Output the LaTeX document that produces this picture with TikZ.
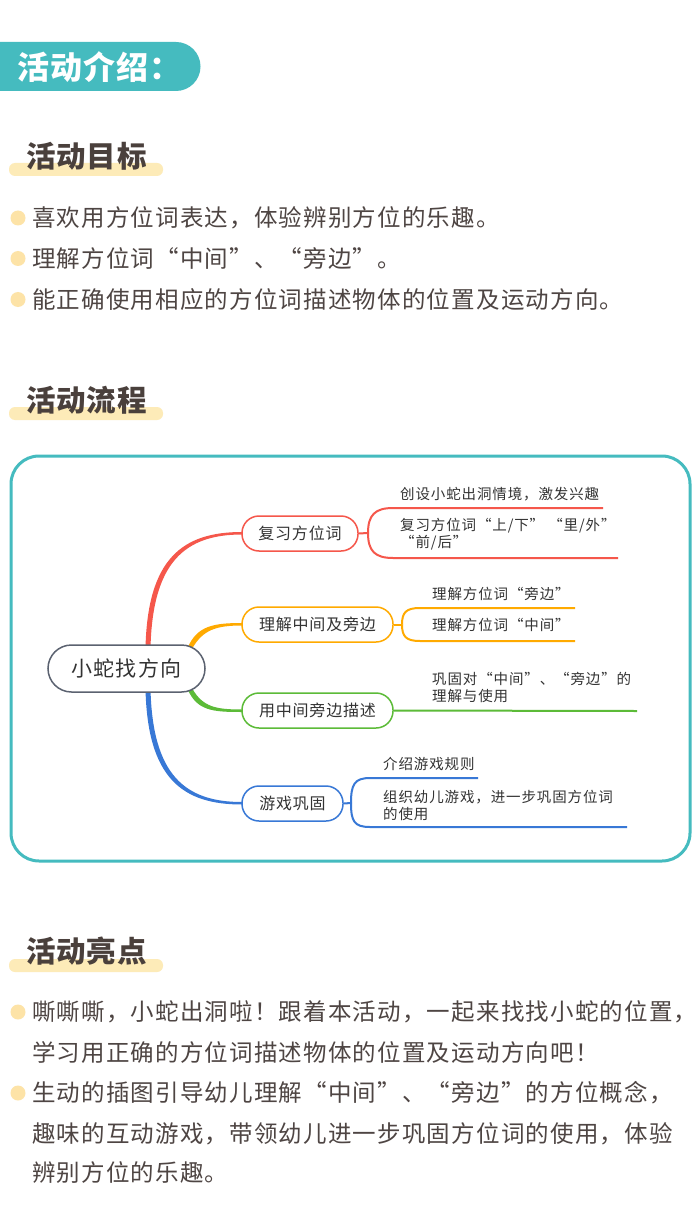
\documentclass[tikz,border=0pt]{standalone}
\usepackage{fontspec}
\setmainfont{Noto Sans CJK SC}
\newfontfamily\bodyf[LetterSpace=5]{Noto Sans CJK SC}
\newfontfamily\mmf[LetterSpace=6]{Noto Sans CJK SC}
\newfontfamily\nodef[LetterSpace=5]{Noto Sans CJK SC}
\newfontfamily\ttlf[LetterSpace=3]{Noto Sans CJK SC}
\usetikzlibrary{calc}
\definecolor{tealc}{HTML}{45BBBF}
\definecolor{titlec}{HTML}{4A403C}
\definecolor{textc}{HTML}{4E4543}
\definecolor{barc}{HTML}{FDEBB8}
\definecolor{dotc}{HTML}{FDE3A7}
\definecolor{mmtext}{HTML}{333333}
\definecolor{redc}{HTML}{F5574B}
\definecolor{orangec}{HTML}{FFAA00}
\definecolor{greenc}{HTML}{5CBB38}
\definecolor{bluec}{HTML}{3878D6}
\definecolor{grayc}{HTML}{5B6270}
\begin{document}
\begin{tikzpicture}[x=1pt,y=-1pt,
  txt/.style={anchor=west,inner sep=0pt,text=textc,font=\bodyf\fontsize{23.5}{23.5}\selectfont},
  ttl/.style={anchor=west,inner sep=0pt,text=titlec,font=\ttlf\bfseries\fontsize{29.5}{29.5}\selectfont},
  dot/.style={circle,fill=dotc,minimum size=15pt,inner sep=0pt},
  bar/.style={fill=barc,rounded corners=6pt},
  mm/.style={anchor=west,inner sep=0pt,text=mmtext,font=\mmf\fontsize{14.5}{17}\selectfont,align=left},
  br/.style={draw,line width=1.5pt,rounded corners=17pt,fill=white,text=mmtext,font=\nodef\fontsize{16}{16}\selectfont,minimum height=35pt,inner sep=0pt},
  sub/.style={line width=2pt},
]
\useasboundingbox (0,0) rectangle (700,1222);
\fill[white] (0,0) rectangle (700,1222);

% header banner
\fill[tealc] (0,42) -- (176,42) arc[start angle=-90,end angle=90,radius=24.5] -- (0,91) -- cycle;
\node[anchor=west,inner sep=0pt,text=white,font=\ttlf\bfseries\fontsize{32}{32}\selectfont] (hdr) at (17,67) {活动介绍：};

% section 1
\fill[bar] (9,163) rectangle (163,176);
\node[ttl] (s1) at (26,156) {活动目标};
\node[dot] (d1) at (18,218) {};
\node[dot] (d2) at (18,258.5) {};
\node[dot] (d3) at (18,299.5) {};
\node[txt] (g1) at (32,218) {喜欢用方位词表达，体验辨别方位的乐趣。};
\node[txt] (g2) at (32,258.5) {理解方位词“中间”、“旁边”。};
\node[txt] (g3) at (32,299.5) {能正确使用相应的方位词描述物体的位置及运动方向。};

% section 2
\fill[bar] (9,407) rectangle (163,420);
\node[ttl] (s2) at (26,400) {活动流程};
\draw[tealc,line width=3pt,rounded corners=28pt] (11,456) rectangle (690,861);

% main branches
\fill[redc] (145.5,648) .. controls (147.5,558) and (183,532) .. (242,532) -- (242,534.5) .. controls (185,534.5) and (152.5,562) .. (150.5,648) -- cycle;
\fill[orangec] (187.5,648) .. controls (197,626) and (213,623) .. (242,623) -- (242,625.5) .. controls (216,625.5) and (203,630) .. (192.5,648) -- cycle;
\fill[greenc] (187.5,689) .. controls (197,711) and (213,712) .. (242,712) -- (242,709.5) .. controls (216,709.5) and (203,707) .. (192.5,689) -- cycle;
\fill[bluec] (145.5,689) .. controls (147.5,779) and (183,804.5) .. (242,804.5) -- (242,802) .. controls (185,802) and (152.5,775) .. (150.5,689) -- cycle;

% central node
\node[draw=grayc,line width=1.5pt,fill=white,rounded corners=23.5pt,minimum width=157pt,minimum height=47pt,inner sep=0pt,text=mmtext,font=\nodef\fontsize{21}{21}\selectfont] (c) at (126.5,668.5) {小蛇找方向};

% branch nodes
\node[br,draw=redc,minimum width=116pt] (b1) at (300,533.5) {复习方位词};
\node[br,draw=orangec,minimum width=151pt] (b2) at (317.5,624.5) {理解中间及旁边};
\node[br,draw=greenc,minimum width=151pt] (b3) at (317.5,710.5) {用中间旁边描述};
\node[br,draw=bluec,minimum width=101pt] (b4) at (292.5,803.5) {游戏巩固};

% sub-branches red
\coordinate (j1) at (368,533);
\coordinate (r1) at (603,508);
\coordinate (r2) at (618,558);
\draw[sub,redc] (b1.east) -- (j1);
\draw[sub,redc] (j1) .. controls +(0,-18) and +(-18,0) .. (393,508) -- (r1);
\draw[sub,redc] (j1) .. controls +(0,18) and +(-18,0) .. (393,558) -- (r2);
\node[mm] (t1) at (400,494) {创设小蛇出洞情境，激发兴趣};
\node[mm] (t2) at (400,534.5) {复习方位词“上/下”\ “里/外”\\\hspace*{0pt}“前/后”};

% sub-branches orange
\coordinate (j2) at (402,624.5);
\coordinate (o1) at (575,608);
\coordinate (o2) at (575,641);
\draw[sub,orangec] (b2.east) -- (j2);
\draw[sub,orangec] (j2) .. controls +(0,-12) and +(-14,0) .. (420,608) -- (o1);
\draw[sub,orangec] (j2) .. controls +(0,12) and +(-14,0) .. (420,641) -- (o2);
\node[mm] (t3) at (432,594) {理解方位词“旁边”};
\node[mm] (t4) at (432,625) {理解方位词“中间”};

% green
\coordinate (g0) at (637,711);
\draw[sub,greenc] (b3.east) -- (g0);
\node[mm] (t5) at (432,687.5) {巩固对“中间”、“旁边”的\\理解与使用};

% blue
\coordinate (j4) at (351,803);
\coordinate (u1) at (478,778);
\coordinate (u2) at (627,827);
\draw[sub,bluec] (b4.east) -- (j4);
\draw[sub,bluec] (j4) .. controls +(0,-18) and +(-16,0) .. (370,778) -- (u1);
\draw[sub,bluec] (j4) .. controls +(0,18) and +(-16,0) .. (370,827) -- (u2);
\node[mm] (t6) at (383,764) {介绍游戏规则};
\node[mm] (t7) at (383,805.5) {组织幼儿游戏，进一步巩固方位词\\的使用};

% section 3
\fill[bar] (9,959) rectangle (163,972);
\node[ttl] (s3) at (26,951) {活动亮点};
\node[dot] (d4) at (18,1012) {};
\node[dot] (d5) at (18,1093) {};
\node[txt] (h1) at (32,1012) {嘶嘶嘶，小蛇出洞啦！跟着本活动，一起来找找小蛇的位置，};
\node[txt] (h2) at (32,1053) {学习用正确的方位词描述物体的位置及运动方向吧！};
\node[txt] (h3) at (32,1093) {生动的插图引导幼儿理解“中间”、“旁边”的方位概念，};
\node[txt] (h4) at (32,1134) {趣味的互动游戏，带领幼儿进一步巩固方位词的使用，体验};
\node[txt] (h5) at (32,1173) {辨别方位的乐趣。};
\end{tikzpicture}
\end{document}
